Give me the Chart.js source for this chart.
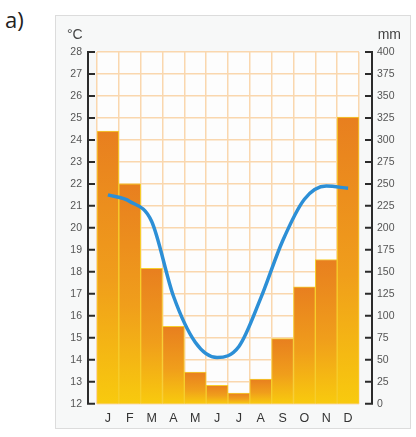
<!DOCTYPE html>
<html>
<head>
<meta charset="utf-8">
<script src="https://cdn.jsdelivr.net/npm/chart.js@4/dist/chart.umd.min.js"></script>
<style>
  body { margin: 0; background: #fff; width: 416px; height: 437px; position: relative; overflow: hidden; }
  #tag { position: absolute; left: 5px; top: 4px; font: 22px "Open Sans", sans-serif; color: #222; }
  #panel { position: absolute; left: 55px; top: 15px; width: 354px; height: 412px; background: #f7f8f8; border: 1px solid #dcdcdc; }
</style>
</head>
<body>
<div id="tag">a)</div>
<div id="panel"><canvas id="klima" width="354" height="412"></canvas></div>
<script>
const months = ['J', 'F', 'M', 'A', 'M', 'J', 'J', 'A', 'S', 'O', 'N', 'D'];
// Niederschlag (mm), rechte Achse
const rain = [310, 250, 154, 88, 36, 21, 12, 28, 74, 133, 164, 326];
// Temperatur (°C), linke Achse
const temp = [21.5, 21.2, 20.3, 16.9, 14.8, 14.1, 14.6, 16.8, 19.4, 21.3, 21.9, 21.8];
const tempMin = 12, tempMax = 28;
const rainMin = 0, rainMax = 400;

const tickFont = { family: '"Liberation Sans Narrow", "Liberation Sans", sans-serif', size: 10.5 };
const gridColor = '#fad7ae';

// Verlauf je Balken: oben orange, unten gelb
function barGradient(context) {
  const chart = context.chart;
  const { ctx, chartArea, scales } = chart;
  if (!chartArea || context.type !== 'data') return '#f0a020';
  const top = scales.y1.getPixelForValue(context.raw);
  const bottom = scales.y1.getPixelForValue(0);
  const g = ctx.createLinearGradient(0, top, 0, bottom);
  g.addColorStop(0, '#e87f1f');
  g.addColorStop(0.55, '#f09e1b');
  g.addColorStop(1, '#f8ca0e');
  return g;
}

// weisser Rasterhintergrund
const areaPlugin = {
  id: 'areaPlugin',
  beforeDraw(chart) {
    const { ctx, chartArea } = chart;
    ctx.save();
    ctx.fillStyle = '#fdfdfd';
    ctx.fillRect(chartArea.left, chartArea.top, chartArea.width, chartArea.height);
    ctx.restore();
  }
};

// Achsenlinien mit Strichen, leicht abgesetzt vom Raster, und Einheiten
const axisPlugin = {
  id: 'axisPlugin',
  afterDraw(chart) {
    const { ctx, chartArea, scales } = chart;
    ctx.save();
    ctx.strokeStyle = '#2b2b2b';
    ctx.lineWidth = 2;
    const xl = chartArea.left - 9;
    ctx.beginPath();
    ctx.moveTo(xl, scales.y.getPixelForValue(tempMax) - 1);
    ctx.lineTo(xl, scales.y.getPixelForValue(tempMin) + 1);
    scales.y.ticks.forEach(t => {
      const py = scales.y.getPixelForValue(t.value);
      ctx.moveTo(xl, py);
      ctx.lineTo(xl + 7, py);
    });
    const xr = chartArea.right + 13;
    ctx.moveTo(xr, scales.y1.getPixelForValue(rainMax) - 1);
    ctx.lineTo(xr, scales.y1.getPixelForValue(rainMin) + 1);
    scales.y1.ticks.forEach(t => {
      const py = scales.y1.getPixelForValue(t.value);
      ctx.moveTo(xr, py);
      ctx.lineTo(xr - 7, py);
    });
    ctx.stroke();

    ctx.fillStyle = '#444';
    ctx.font = '14px "Liberation Sans", sans-serif';
    ctx.textBaseline = 'alphabetic';
    ctx.textAlign = 'left';
    ctx.fillText('°C', 11, 23);
    ctx.textAlign = 'right';
    ctx.fillText('mm', chart.width - 9, 23);
    ctx.restore();
  }
};

const klimaChart = new Chart(document.getElementById('klima'), {
  type: 'bar',
  data: {
    labels: months,
    datasets: [
      {
        type: 'line',
        label: 'Temperatur',
        data: temp,
        yAxisID: 'y',
        borderColor: '#2c8fd6',
        borderWidth: 3.5,
        cubicInterpolationMode: 'monotone',
        pointRadius: 0,
        fill: false,
        order: 0
      },
      {
        label: 'Niederschlag',
        data: rain,
        yAxisID: 'y1',
        backgroundColor: barGradient,
        borderColor: '#f6cd2c',
        borderWidth: 1,
        categoryPercentage: 1,
        barPercentage: 1,
        order: 1
      }
    ]
  },
  options: {
    responsive: false,
    animation: false,
    layout: { padding: { top: 36 } },
    plugins: { legend: { display: false }, tooltip: { enabled: false } },
    scales: {
      x: {
        grid: { color: gridColor, lineWidth: 1.5, drawTicks: false },
        border: { display: false },
        ticks: { color: '#333', font: { family: '"Liberation Sans", sans-serif', size: 12.5 }, padding: 7 },
        afterFit(scale) { scale.height = 23; }
      },
      y: {
        position: 'left',
        min: tempMin,
        max: tempMax,
        grid: { color: gridColor, lineWidth: 1.5, drawTicks: false },
        border: { display: false },
        ticks: { stepSize: 1, color: '#555', font: tickFont, padding: 15 },
        afterFit(scale) { scale.width = 41; }
      },
      y1: {
        position: 'right',
        min: rainMin,
        max: rainMax,
        grid: { display: false, drawTicks: false },
        border: { display: false },
        ticks: { stepSize: 25, color: '#555', font: tickFont, padding: 18 },
        afterFit(scale) { scale.width = 51; }
      }
    }
  },
  plugins: [areaPlugin, axisPlugin]
});
</script>
</body>
</html>
